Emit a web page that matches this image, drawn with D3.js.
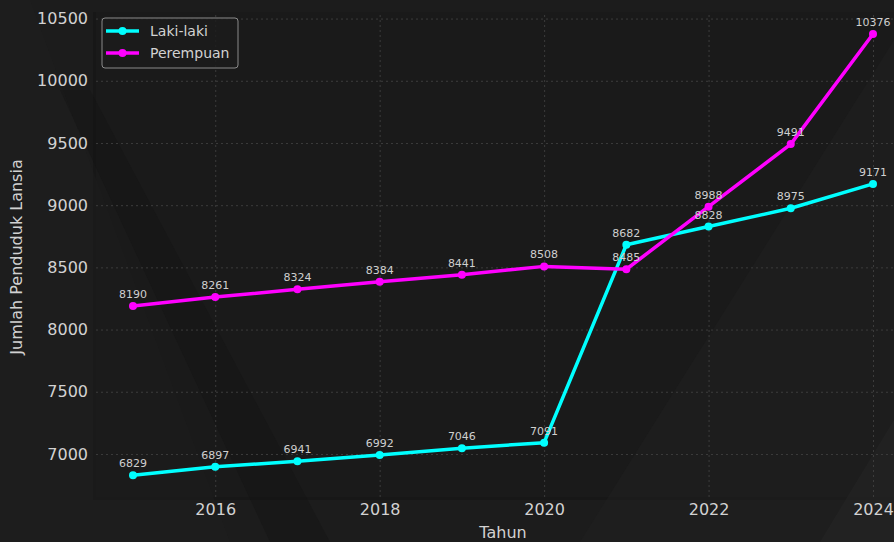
<!DOCTYPE html>
<html>
<head>
<meta charset="utf-8">
<script src="https://cdn.jsdelivr.net/npm/d3@7"></script>
<style>
  body { margin: 0; background: #1b1b1b; }
  svg { display: block; font-family: "DejaVu Sans", sans-serif; }
</style>
</head>
<body>
<div id="chart"></div>
<script>
// data
const years = [2015, 2016, 2017, 2018, 2019, 2020, 2021, 2022, 2023, 2024];
const lakiLaki = [6829, 6897, 6941, 6992, 7046, 7091, 8682, 8828, 8975, 9171];
const perempuan = [8190, 8261, 8324, 8384, 8441, 8508, 8485, 8988, 9491, 10376];
const xTicks = [2016, 2018, 2020, 2022, 2024];
const yTicks = [7000, 7500, 8000, 8500, 9000, 9500, 10000, 10500];

const series = [
  { name: "Laki-laki", values: lakiLaki, color: "#00ffff" },
  { name: "Perempuan", values: perempuan, color: "#ff00ff" }
];

const W = 894, H = 542;
const margin = { top: 12, right: -16, bottom: 45, left: 96 };
const width = W - margin.left - margin.right,
  height = H - margin.top - margin.bottom;

const svg = d3.select("#chart").append("svg")
  .attr("width", W).attr("height", H);

// background
svg.append("rect").attr("width", W).attr("height", H).attr("fill", "#1c1c1c");

// plot area with a soft shadow edge
svg.append("rect")
  .attr("x", margin.left - 3).attr("y", margin.top)
  .attr("width", width + 3).attr("height", height + 3)
  .attr("fill", "#111").attr("opacity", 0.5);
svg.append("rect")
  .attr("x", margin.left).attr("y", margin.top)
  .attr("width", width).attr("height", height)
  .attr("fill", "#1a1a1a");

// faint diagonal bands, drawn under everything else
const bands = svg.append("g");
bands.append("polygon")
  .attr("points", "0,0 30,0 230,542 0,542")
  .attr("fill", "#202020").attr("opacity", 0.35);
bands.append("polygon")
  .attr("points", "60,90 90,90 330,542 270,542")
  .attr("fill", "#121212").attr("opacity", 0.3);
bands.append("polygon")
  .attr("points", "580,542 894,40 894,542")
  .attr("fill", "#262626").attr("opacity", 0.3);
bands.append("polygon")
  .attr("points", "820,542 894,420 894,542")
  .attr("fill", "#2a2a2a").attr("opacity", 0.35);

const g = svg.append("g")
  .attr("transform", "translate(" + margin.left + "," + margin.top + ")");

// x / y scales (matplotlib style 5% margins)
const x = d3.scaleLinear().domain([2014.55, 2024.45]).range([0, width]);
const y = d3.scaleLinear().domain([6654, 10553]).range([height, 0]);

// grid
g.append("g")
  .call(d3.axisLeft(y).tickValues(yTicks).tickSize(-width).tickFormat(""))
  .call((a) => a.select(".domain").remove())
  .selectAll("line")
  .attr("stroke", "#3c3c3c").attr("stroke-dasharray", "2,3");
g.append("g")
  .attr("transform", "translate(0," + height + ")")
  .call(d3.axisBottom(x).tickValues(xTicks).tickSize(-height).tickFormat(""))
  .call((a) => a.select(".domain").remove())
  .selectAll("line")
  .attr("stroke", "#3c3c3c").attr("stroke-dasharray", "2,3");

// axes labels
const yAxis = g.append("g")
  .call(d3.axisLeft(y).tickValues(yTicks).tickSize(0).tickPadding(8).tickFormat(d3.format("d")));
yAxis.select(".domain").remove();
yAxis.selectAll("text")
  .style("font-size", "16px").attr("fill", "#d2d2d2")
  .style("font-family", "DejaVu Sans");

const xAxis = g.append("g")
  .attr("transform", "translate(0," + height + ")")
  .call(d3.axisBottom(x).tickValues(xTicks).tickSize(0).tickPadding(7).tickFormat(d3.format("d")));
xAxis.select(".domain").remove();
xAxis.selectAll("text")
  .style("font-size", "16px").attr("fill", "#d2d2d2")
  .style("font-family", "DejaVu Sans");

// axis titles
svg.append("text")
  .attr("x", 503).attr("y", 538)
  .attr("text-anchor", "middle")
  .attr("fill", "#d2d2d2").style("font-size", "16px")
  .text("Tahun");
svg.append("text")
  .attr("transform", "translate(22,257) rotate(-90)")
  .attr("text-anchor", "middle")
  .attr("fill", "#d2d2d2").style("font-size", "16px")
  .text("Jumlah Penduduk Lansia");

// lines, markers, labels
const line = d3.line()
  .x((d, i) => x(years[i]))
  .y((d) => y(d));

series.forEach(function (s) {
  g.append("path")
    .datum(s.values)
    .attr("fill", "none")
    .attr("stroke", s.color)
    .attr("stroke-width", 3.5)
    .attr("stroke-linejoin", "round")
    .attr("d", line);

  g.selectAll(null)
    .data(s.values)
    .enter()
    .append("circle")
    .attr("cx", (d, i) => x(years[i]))
    .attr("cy", (d) => y(d))
    .attr("r", 4)
    .attr("fill", s.color);
});

series.forEach(function (s) {
  g.selectAll(null)
    .data(s.values)
    .enter()
    .append("text")
    .attr("x", (d, i) => x(years[i]))
    .attr("y", (d) => y(d) - 8)
    .attr("text-anchor", "middle")
    .attr("fill", "#cfcfcf")
    .style("font-size", "11px")
    .text((d) => d);
});

// legend
const legend = svg.append("g").attr("transform", "translate(102,18)");
legend.append("rect")
  .attr("width", 136).attr("height", 50)
  .attr("rx", 3)
  .attr("fill", "#1b1b1b").attr("fill-opacity", 0.8)
  .attr("stroke", "#8a8a8a").attr("stroke-width", 1);
series.forEach(function (s, i) {
  const row = legend.append("g").attr("transform", "translate(0," + (13 + i * 22) + ")");
  row.append("line")
    .attr("x1", 4).attr("x2", 37)
    .attr("stroke", s.color).attr("stroke-width", 3.5);
  row.append("circle").attr("cx", 20.5).attr("r", 4).attr("fill", s.color);
  row.append("text")
    .attr("x", 48).attr("y", 5)
    .attr("fill", "#d2d2d2").style("font-size", "14px")
    .text(s.name);
});
</script>
</body>
</html>
